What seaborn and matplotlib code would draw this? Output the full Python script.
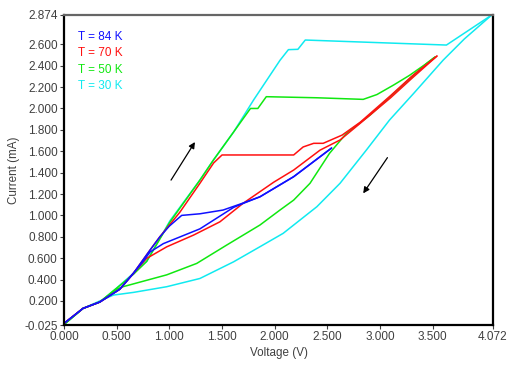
import matplotlib
matplotlib.use("Agg")
import matplotlib.pyplot as plt
import seaborn as sns
import pandas as pd

# ---- data ----
temps = ["T = 84 K", "T = 70 K", "T = 50 K", "T = 30 K"]
colors = ["#1010ff", "#ff1010", "#10e810", "#10eaf0"]

v84_up = [0.0, 0.18, 0.34, 0.53, 0.66, 0.82, 0.91, 1.00, 1.117, 1.29, 1.51, 1.67, 1.86, 2.18, 2.54]
i84_up = [-0.01, 0.13, 0.19, 0.31, 0.46, 0.68, 0.80, 0.90, 1.00, 1.015, 1.05, 1.105, 1.174, 1.362, 1.63]
v84_dn = [2.54, 2.18, 1.86, 1.67, 1.61, 1.29, 0.943, 0.816, 0.76, 0.66, 0.53, 0.34, 0.18, 0.0]
i84_dn = [1.63, 1.362, 1.174, 1.10, 1.075, 0.874, 0.736, 0.657, 0.58, 0.46, 0.31, 0.19, 0.13, -0.01]

v70_up = [0.0, 0.18, 0.34, 0.53, 0.66, 0.82, 0.91, 1.10, 1.29, 1.42, 1.50, 2.18, 2.27, 2.37, 2.46, 2.64, 2.71, 2.81, 3.10, 3.30, 3.54]
i70_up = [-0.01, 0.13, 0.19, 0.31, 0.46, 0.68, 0.80, 1.03, 1.30, 1.49, 1.565, 1.565, 1.64, 1.674, 1.674, 1.751, 1.80, 1.87, 2.12, 2.30, 2.49]
v70_dn = [3.54, 3.30, 3.10, 2.81, 2.62, 2.43, 2.18, 1.99, 1.70, 1.48, 1.23, 0.975, 0.785, 0.66, 0.53, 0.34, 0.18, 0.0]
i70_dn = [2.49, 2.28, 2.10, 1.86, 1.705, 1.61, 1.424, 1.31, 1.113, 0.94, 0.816, 0.706, 0.598, 0.46, 0.31, 0.19, 0.13, -0.01]

v50_up = [0.0, 0.18, 0.34, 0.50, 0.66, 0.785, 1.00, 1.29, 1.42, 1.61, 1.77, 1.84, 1.92, 2.40, 2.84, 2.97, 3.13, 3.28, 3.44, 3.52]
i50_up = [-0.02, 0.13, 0.19, 0.32, 0.45, 0.57, 0.93, 1.33, 1.52, 1.78, 2.00, 2.00, 2.11, 2.10, 2.085, 2.13, 2.22, 2.31, 2.42, 2.48]
v50_dn = [3.52, 3.44, 2.905, 2.68, 2.52, 2.335, 2.18, 2.05, 1.86, 1.54, 1.26, 0.975, 0.56, 0.50, 0.34, 0.18, 0.0]
i50_dn = [2.48, 2.42, 1.938, 1.767, 1.58, 1.30, 1.143, 1.05, 0.91, 0.72, 0.551, 0.444, 0.333, 0.31, 0.19, 0.13, -0.02]

v30_up = [0.0, 0.18, 0.34, 0.50, 0.785, 1.006, 1.29, 1.42, 1.61, 1.80, 2.05, 2.13, 2.22, 2.29, 3.00, 3.63, 4.06]
i30_up = [-0.02, 0.13, 0.19, 0.32, 0.57, 0.95, 1.33, 1.52, 1.78, 2.08, 2.45, 2.55, 2.553, 2.64, 2.615, 2.593, 2.874]
v30_dn = [4.06, 3.80, 3.60, 3.32, 3.09, 2.87, 2.62, 2.40, 2.08, 1.86, 1.61, 1.29, 0.975, 0.66, 0.47, 0.34, 0.18, 0.0]
i30_dn = [2.874, 2.65, 2.453, 2.142, 1.892, 1.611, 1.30, 1.081, 0.832, 0.707, 0.566, 0.41, 0.333, 0.28, 0.255, 0.20, 0.13, -0.02]

x_ticks = [0.0, 0.5, 1.0, 1.5, 2.0, 2.5, 3.0, 3.5, 4.072]
y_ticks = [-0.025, 0.2, 0.4, 0.6, 0.8, 1.0, 1.2, 1.4, 1.6, 1.8, 2.0, 2.2, 2.4, 2.6, 2.874]

arrow_up = [(1.016, 1.33), (1.243, 1.686)]   # tail, head
arrow_dn = [(3.07, 1.54), (2.84, 1.206)]

# ---- build long table ----
sweeps = [
    (temps[0], "up", v84_up, i84_up), (temps[0], "down", v84_dn, i84_dn),
    (temps[1], "up", v70_up, i70_up), (temps[1], "down", v70_dn, i70_dn),
    (temps[2], "up", v50_up, i50_up), (temps[2], "down", v50_dn, i50_dn),
    (temps[3], "up", v30_up, i30_up), (temps[3], "down", v30_dn, i30_dn),
]
rows = []
for t, d, vs, cs in sweeps:
    for k, (v, c) in enumerate(zip(vs, cs)):
        rows.append({"T": t, "sweep": t + d, "order": k, "V": v, "I": c})
df = pd.DataFrame(rows)

sns.set_style("white")
plt.rcParams["font.family"] = ["Liberation Sans", "DejaVu Sans"]

fig = plt.figure(figsize=(5.13, 3.69), dpi=100)
ax = fig.add_axes([64 / 513, 1 - 325 / 369, 429 / 513, 310 / 369])

# draw in reverse order so 84 K lies on top
for t, col in reversed(list(zip(temps, colors))):
    sub = df[df["T"] == t]
    sns.lineplot(data=sub, x="V", y="I", units="sweep", estimator=None, sort=False,
                 color=col, linewidth=1.1, ax=ax, legend=False)

ax.set_xlim(0, 4.072)
ax.set_ylim(-0.025, 2.874)
ax.set_xticks(x_ticks)
ax.set_xticklabels([f"{v:.3f}" for v in x_ticks])
ax.set_yticks(y_ticks)
ax.set_yticklabels([f"{v:.3f}" for v in y_ticks])
ax.tick_params(axis="both", which="major", direction="out", length=3, width=0.8,
               labelsize=8.5, colors="#404040", pad=1.5, bottom=True, left=True)
ax.set_xlabel("Voltage (V)", fontsize=8.4, color="#404040", labelpad=3)
ax.set_ylabel("Current (mA)", fontsize=8.4, color="#404040", labelpad=3)

for side in ["left", "bottom", "right"]:
    ax.spines[side].set_color("black")
    ax.spines[side].set_linewidth(1.6)
ax.spines["top"].set_color("#666666")
ax.spines["top"].set_linewidth(1.6)

# legend as coloured text
handles = [plt.Line2D([], [], color=c, linewidth=0) for c in colors]
leg = ax.legend(handles, temps, loc="upper left", bbox_to_anchor=(0.022, 0.965),
                frameon=False, handlelength=0, handletextpad=0, fontsize=8.5,
                labelspacing=0.38, borderaxespad=0)
for txt, c in zip(leg.get_texts(), colors):
    txt.set_color(c)

for (tail, head) in [arrow_up, arrow_dn]:
    ax.annotate("", xy=head, xytext=tail,
                arrowprops=dict(arrowstyle="-|>", color="black", lw=0.9,
                                mutation_scale=9, shrinkA=0, shrinkB=0))

fig.savefig("out.png", dpi=100)
